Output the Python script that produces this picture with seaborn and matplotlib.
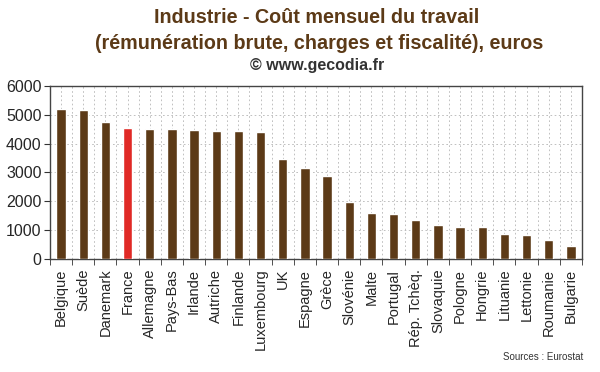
import seaborn as sns
import matplotlib.pyplot as plt
import numpy as np

pays = ["Belgique", "Suède", "Danemark", "France", "Allemagne", "Pays-Bas",
        "Irlande", "Autriche", "Finlande", "Luxembourg", "UK", "Espagne",
        "Grèce", "Slovénie", "Malte", "Portugal", "Rép. Tchèq.", "Slovaquie",
        "Pologne", "Hongrie", "Lituanie", "Lettonie", "Roumanie", "Bulgarie"]
cout = [5200, 5180, 4760, 4545, 4500, 4500, 4470, 4450, 4430, 4390, 3470,
        3170, 2880, 1970, 1580, 1560, 1350, 1170, 1100, 1100, 870, 820, 650, 460]

brun = "#5c3a17"
rouge = "#e02a26"
couleurs = [rouge if p == "France" else brun for p in pays]

sns.set_style("white")
plt.rcParams['font.family'] = ['Liberation Sans', 'DejaVu Sans']

fig = plt.figure(figsize=(6, 3.72), dpi=100)
ax = fig.add_axes([0.0833, 0.3038, 0.8867, 0.465])

sns.barplot(x=pays, y=cout, hue=pays, palette=couleurs, legend=False,
            width=0.42, saturation=1, ax=ax, zorder=3)

ax.set_ylim(0, 6000)
ax.set_xlim(-0.5, len(pays) - 0.5)
ax.set_yticks(np.arange(0, 6001, 1000))
ax.tick_params(axis="y", labelsize=11.5, length=4, pad=2, direction="out", left=True, color="#333333")

# étiquettes au centre, petites graduations aux limites de catégories
ax.set_xticks(range(len(pays)))
ax.set_xticklabels(pays, rotation=90, fontsize=10.5)
ax.tick_params(axis="x", which="major", length=0, pad=7)
ax.set_xticks(np.arange(-0.5, len(pays), 1), minor=True)
ax.tick_params(axis="x", which="minor", length=4, direction="out", bottom=True, color="#333333")

ax.grid(True, axis="both", which="both", linestyle=(0, (2, 3)), color="#b5b5b5", linewidth=0.6, zorder=0)
ax.set_axisbelow(True)
for s in ax.spines.values():
    s.set_color("#444444")
    s.set_linewidth(1)

fig.text(0.528, 0.952, "Industrie - Coût mensuel du travail", ha="center", va="center",
         fontsize=14.2, fontweight="bold", color=brun)
fig.text(0.532, 0.884, "(rémunération brute, charges et fiscalité), euros", ha="center", va="center",
         fontsize=14.2, fontweight="bold", color=brun)
fig.text(0.528, 0.825, "© www.gecodia.fr", ha="center", va="center",
         fontsize=11.5, fontweight="bold", color="#333333")
fig.text(0.972, 0.04, "Sources : Eurostat", ha="right", va="center", fontsize=7, color="#333333")

plt.savefig("out.png", dpi=100)
